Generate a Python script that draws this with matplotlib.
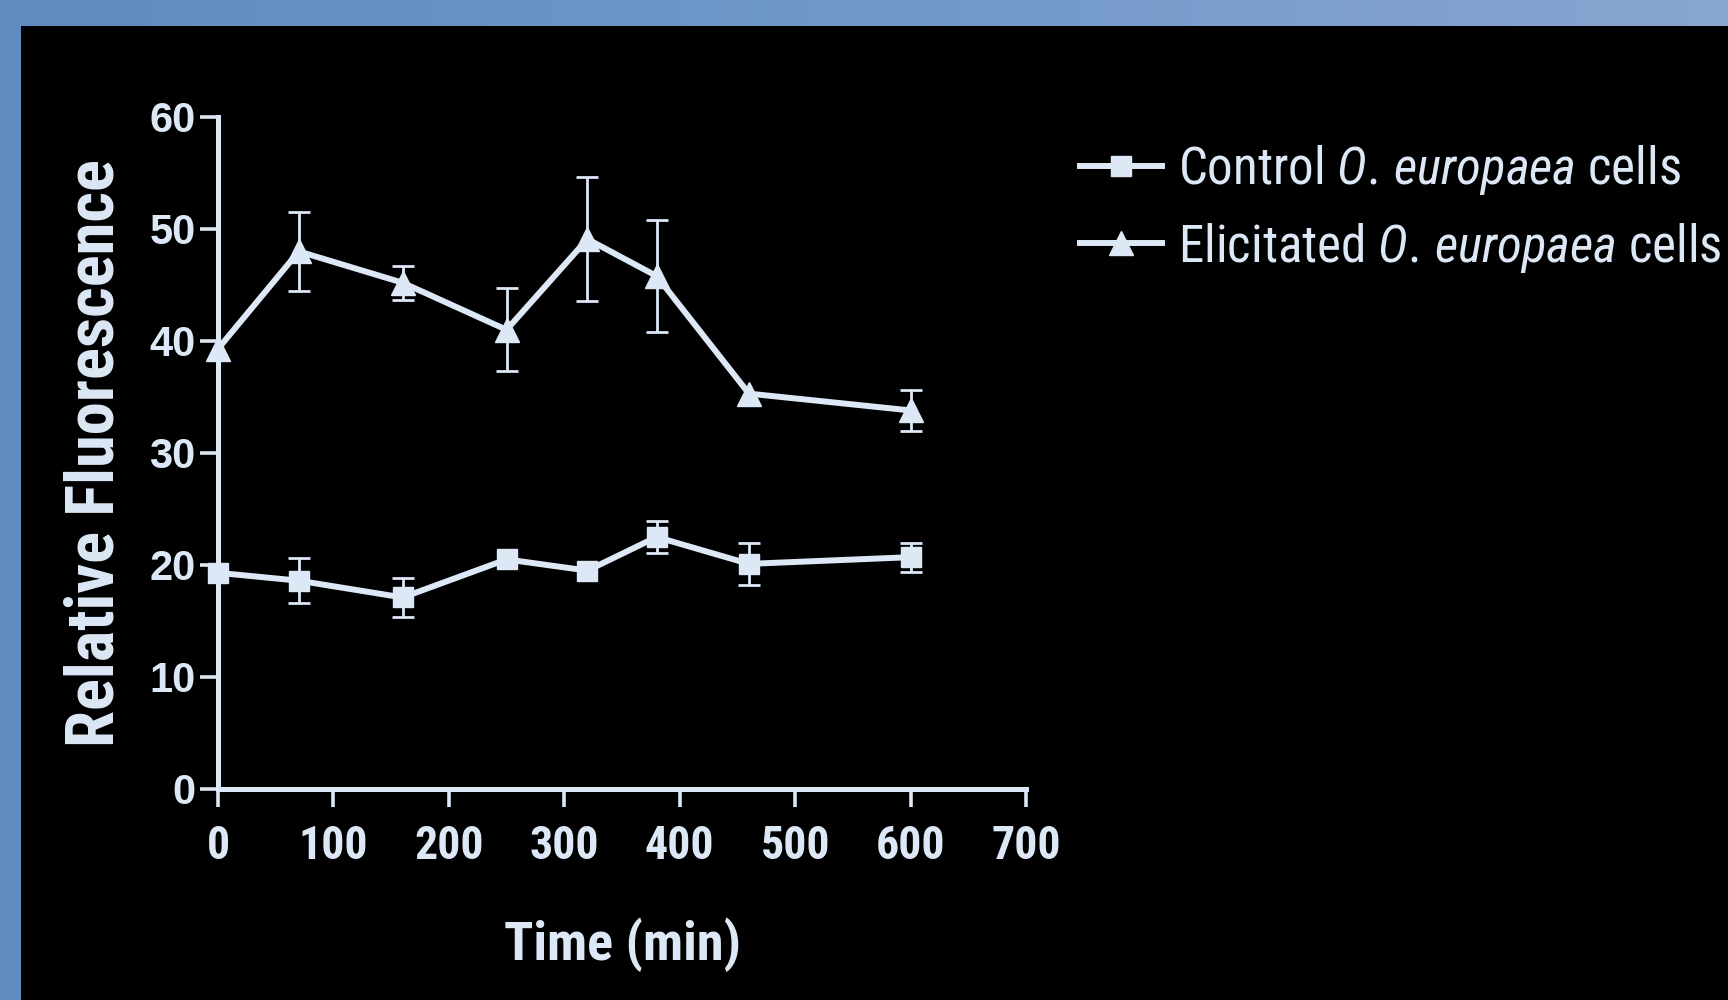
import numpy as np
import matplotlib
matplotlib.use("Agg")
import matplotlib.pyplot as plt
from matplotlib.colors import LinearSegmentedColormap
from matplotlib.lines import Line2D

# ---- data ----
time_min = [0, 70, 160, 250, 320, 380, 460, 600]
control_mean = [19.3, 18.6, 17.1, 20.5, 19.5, 22.5, 20.1, 20.7]
control_err = [0.0, 2.0, 1.7, 0.0, 0.0, 1.4, 1.9, 1.3]
elicit_mean = [39.3, 48.0, 45.2, 41.0, 49.1, 45.8, 35.3, 33.8]
elicit_err = [0.0, 3.5, 1.5, 3.7, 5.5, 5.0, 0.0, 1.8]
x_ticks = [0, 100, 200, 300, 400, 500, 600, 700]
y_ticks = [0, 10, 20, 30, 40, 50, 60]
series_labels = [r"Control $\mathit{O.\,europaea}$ cells",
                 r"Elicitated $\mathit{O.\,europaea}$ cells"]

FG = "#dce8f5"
COND = ["Roboto Condensed", "DejaVu Sans"]
WIDE = ["Liberation Sans", "DejaVu Sans"]

plt.rcParams["font.family"] = COND
plt.rcParams["mathtext.fontset"] = "custom"
plt.rcParams["mathtext.rm"] = "Roboto Condensed"
plt.rcParams["mathtext.it"] = "Roboto Condensed:italic"
plt.rcParams["mathtext.bf"] = "Roboto Condensed:bold"

W, H = 1728, 1000
fig = plt.figure(figsize=(W / 100, H / 100), dpi=100, facecolor="black")

# blue slide frame: gradient band on top, solid band on the left
band = LinearSegmentedColormap.from_list("band", ["#5e8bc0", "#7099c9", "#89a5d1"])
top = fig.add_axes([0, 1 - 26 / H, 1, 26 / H])
top.imshow(np.linspace(0, 1, 256)[None, :], aspect="auto", cmap=band,
           extent=[0, 1, 0, 1])
top.set_axis_off()
left = fig.add_axes([0, 0, 21 / W, 1 - 26 / H])
left.set_facecolor("#5f8cc0")
left.set_xticks([]); left.set_yticks([])
for s in left.spines.values():
    s.set_visible(False)

ax = fig.add_axes([218 / W, 1 - 789 / H, 808 / W, 672 / H])
ax.set_facecolor("black")


def draw_series(means, errs, marker, ms):
    ax.plot(time_min, means, color=FG, lw=4.3, marker=marker, ms=ms,
            clip_on=False, zorder=3)
    # error bars only where a spread was measured
    xs = [t for t, e in zip(time_min, errs) if e > 0]
    ys = [m for m, e in zip(means, errs) if e > 0]
    es = [e for e in errs if e > 0]
    ax.errorbar(xs, ys, yerr=es, fmt="none", ecolor=FG, elinewidth=2.0,
                capsize=8, capthick=2.0, zorder=2)


draw_series(control_mean, control_err, "s", 15)
draw_series(elicit_mean, elicit_err, "^", 17)

ax.set_xlim(0, 700)
ax.set_ylim(0, 60)
ax.set_xticks(x_ticks)
ax.set_yticks(y_ticks)
for s in ("top", "right"):
    ax.spines[s].set_visible(False)
for s in ("left", "bottom"):
    ax.spines[s].set_color(FG)
    ax.spines[s].set_linewidth(3.6)
ax.tick_params(colors=FG, width=2.6, length=13, direction="out")
ax.tick_params(axis="x", pad=12)
ax.tick_params(axis="y", pad=3)
for t in ax.get_xticklabels():
    t.set_fontsize(33); t.set_fontweight("bold"); t.set_color(FG)
for t in ax.get_yticklabels():
    t.set_fontsize(30); t.set_fontweight("bold"); t.set_color(FG)
    t.set_family(WIDE)

ax.set_xlabel("Time (min)", fontsize=39, fontweight="bold", color=FG, labelpad=36)
ax.set_ylabel("Relative Fluorescence", fontsize=48, fontweight="bold", color=FG,
              labelpad=16)

handles = [Line2D([], [], color=FG, lw=4.3, marker="s", ms=15),
           Line2D([], [], color=FG, lw=4.3, marker="^", ms=17)]
leg_fs = 38
leg = ax.legend(handles=handles, labels=series_labels, loc="upper left",
                bbox_to_anchor=(1080 / W, 1 - 143 / H),
                bbox_transform=fig.transFigure, frameon=False, fontsize=leg_fs,
                handlelength=1.55, handletextpad=0.3, labelspacing=0.45,
                borderpad=0, borderaxespad=0)
for t in leg.get_texts():
    t.set_color(FG)

# fit the legend text to the space right of the plot
fig.canvas.draw()
renderer = fig.canvas.get_renderer()
w0 = leg.get_texts()[0].get_window_extent(renderer).width
scale = 503.0 / w0
if abs(scale - 1) > 0.02:
    for t in leg.get_texts():
        t.set_fontsize(leg_fs * scale)

fig.savefig("out.png", dpi=100, facecolor=fig.get_facecolor())
